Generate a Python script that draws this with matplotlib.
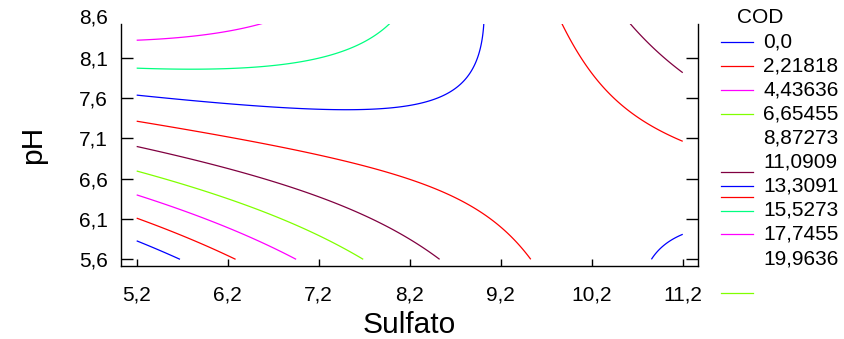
import numpy as np
import matplotlib
matplotlib.use('Agg')
import matplotlib.pyplot as plt
from matplotlib.lines import Line2D

plt.rcParams['font.family'] = ['Liberation Sans', 'DejaVu Sans']

# contour levels of COD (legend)
levels = [0.0, 2.21818, 4.43636, 6.65455, 8.87273, 11.0909, 13.3091, 15.5273, 17.7455, 19.9636]

# points (Sulfato, pH), one list per level index
trace_x = {
    0: [5.2, 5.683],
    1: [5.2, 5.676, 6.008, 6.29],
    2: [5.2, 5.712, 6.299, 6.665, 6.947],
    3: [5.2, 5.53, 6.152, 6.70, 7.178, 7.434, 7.69],
    4: [5.2, 5.712, 6.335, 6.958, 7.58, 7.874, 8.13, 8.514, 10.613, 10.95, 11.2],
    5: [5.2, 5.749, 6.299, 7.654, 8.203, 8.497, 8.789, 9.082, 9.302, 9.52,
        9.87, 9.962, 10.127, 10.327, 10.584, 10.877, 11.2],
    6: [5.2, 6.079, 6.701, 7.58, 8.167, 8.459, 8.679, 8.826, 8.954, 9.009, 10.86, 10.987, 11.2],
    7: [5.2, 5.786, 6.701, 7.288, 7.618, 7.837, 7.98],
    8: [5.2, 5.786, 6.115, 6.409, 6.573],
}
trace_y = {
    0: [5.815, 5.6],
    1: [6.105, 5.915, 5.757, 5.6],
    2: [6.396, 6.226, 5.973, 5.757, 5.6],
    3: [6.695, 6.586, 6.359, 6.139, 5.899, 5.757, 5.6],
    4: [7.005, 6.856, 6.69, 6.471, 6.2, 6.048, 5.881, 5.6, 8.526, 8.2, 7.913],
    5: [7.311, 7.208, 7.105, 6.782, 6.586, 6.462, 6.316, 6.098, 5.902, 5.6,
        8.526, 8.306, 8.016, 7.747, 7.457, 7.229, 7.05],
    6: [7.643, 7.532, 7.486, 7.457, 7.507, 7.59, 7.739, 7.851, 8.162, 8.526, 5.6, 5.757, 5.898],
    7: [7.975, 7.954, 8.004, 8.12, 8.244, 8.411, 8.526],
    8: [8.319, 8.369, 8.411, 8.473, 8.526],
}

line_colors = ['#0000ff', '#ff0000', '#ff00ff', '#80ff00', '#800040',
               '#ff0000', '#0000ff', '#00ff80', '#ff00ff']

xticks = [5.2, 6.2, 7.2, 8.2, 9.2, 10.2, 11.2]
yticks = [5.6, 6.1, 6.6, 7.1, 7.6, 8.1]

# fit a second order response surface to the read contour points
px, py, pz = [], [], []
for k in trace_x:
    px += trace_x[k]
    py += trace_y[k]
    pz += [levels[k]] * len(trace_x[k])
u = np.array(px) - 8.2
v = np.array(py) - 7.1
A = np.column_stack([np.ones_like(u), u, v, u * u, v * v, u * v])
coef = np.linalg.lstsq(A, np.array(pz), rcond=None)[0]

gx = np.linspace(5.2, 11.2, 300)
gy = np.linspace(5.6, 8.6, 300)
X, Y = np.meshgrid(gx, gy)
U = X - 8.2
V = Y - 7.1
Z = coef[0] + coef[1]*U + coef[2]*V + coef[3]*U*U + coef[4]*V*V + coef[5]*U*V

fig = plt.figure(figsize=(8.45, 3.39), dpi=100)
ax = fig.add_axes([0.1428, 0.2153, 0.6836, 0.7139])
ax.contour(X, Y, Z, levels=levels[:9], colors=line_colors, linewidths=0.9)

ax.set_xlim(5.024, 11.371)
ax.set_ylim(5.517, 8.52)
ax.spines['top'].set_visible(False)
for s in ['left', 'bottom', 'right']:
    ax.spines[s].set_linewidth(1.0)
ax.set_xticks(xticks)
ax.set_xticklabels([str(t).replace('.', ',') for t in xticks])
ax.set_yticks(yticks)
ax.set_yticklabels([str(t).replace('.', ',') for t in yticks])
ax.tick_params(axis='y', direction='in', length=8.4, width=1.0, labelsize=15, pad=9,
               right=True)
ax.tick_params(axis='x', direction='in', length=5, width=1.0, labelsize=15, pad=14)
ax.text(-0.022, 8.6, '8,6', transform=ax.get_yaxis_transform(), ha='right', va='center',
        fontsize=15, clip_on=False)

ax.set_xlabel('Sulfato', fontsize=21.5, labelpad=5)
ax.set_ylabel('pH', fontsize=21.5, labelpad=23)

# legend at the right
fig.text(736.7 / 845, 1 - 17.3 / 339, 'COD', fontsize=15, va='center', ha='left')
for i, lv in enumerate(levels):
    lab = '0,0' if lv == 0 else str(lv).replace('.', ',')
    yy = 1 - (41.7 + 24.1 * i) / 339
    fig.text(763.3 / 845, yy, lab, fontsize=15, va='center', ha='left')
leg_rows = [0, 1, 2, 3, 5.42, 5.99, 6.43, 7.02, 7.99, 10.44]
leg_colors = ['#0000ff', '#ff0000', '#ff00ff', '#80ff00', '#800040',
              '#0000ff', '#ff0000', '#00ff80', '#ff00ff', '#80ff00']
for r, c in zip(leg_rows, leg_colors):
    yy = 1 - (41.7 + 24.1 * r) / 339
    fig.add_artist(Line2D([721 / 845, 752.7 / 845], [yy, yy], color=c, lw=0.9))

fig.savefig('out.png', dpi=100)
